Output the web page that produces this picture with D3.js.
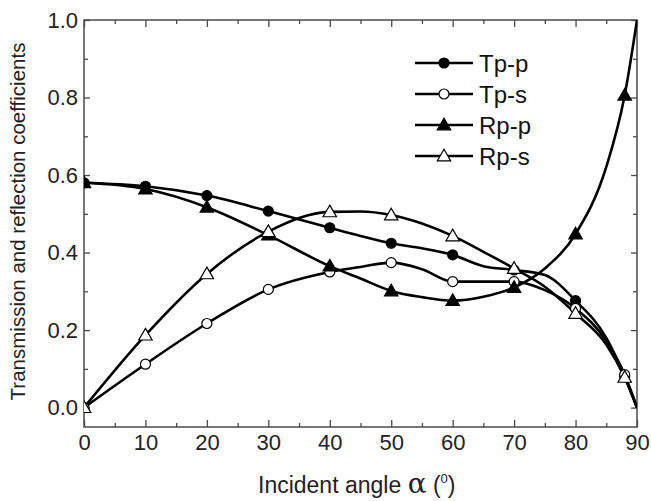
<!DOCTYPE html>
<html>
<head>
<meta charset="utf-8">
<script src="https://cdn.jsdelivr.net/npm/d3@7"></script>
<style>
  body { margin: 0; background: #fff; }
  svg { display: block; font-family: "Liberation Sans", Arial, sans-serif; }
</style>
</head>
<body>
<svg id="chart" width="651" height="501"></svg>
<script>
const angles = [0, 10, 20, 30, 40, 45, 50, 55, 60, 65, 70, 75, 80, 85, 88, 90]
// angles that carry a marker
const markerAngles = [0, 10, 20, 30, 40, 50, 60, 70, 80, 88]

const tpp = [0.580, 0.571, 0.547, 0.507, 0.464, 0.443, 0.424, 0.411, 0.394, 0.365, 0.355, 0.342, 0.276, 0.180, 0.080, 0.0]
const tps = [0.0, 0.112, 0.217, 0.305, 0.350, 0.363, 0.374, 0.357, 0.325, 0.325, 0.325, 0.303, 0.256, 0.172, 0.085, 0.0]
const rpp = [0.580, 0.564, 0.517, 0.445, 0.365, 0.333, 0.301, 0.285, 0.276, 0.286, 0.310, 0.359, 0.448, 0.621, 0.806, 1.0]
const rps = [0.0, 0.187, 0.345, 0.454, 0.505, 0.506, 0.497, 0.475, 0.443, 0.402, 0.359, 0.312, 0.243, 0.163, 0.078, 0.0]

const seriesNames = ["Tp-p", "Tp-s", "Rp-p", "Rp-s"]
const seriesValues = [tpp, tps, rpp, rps]
const seriesSymbols = ["circle", "circle", "triangle", "triangle"]
const seriesFilled = [true, false, true, false]

const xTicks = [0, 10, 20, 30, 40, 50, 60, 70, 80, 90]
const yTicks = [0.0, 0.2, 0.4, 0.6, 0.8, 1.0]

const margin = {left: 84, top: 20, right: 14, bottom: 74}
const width = 651 - margin.left - margin.right
const height = 501 - margin.top - margin.bottom

const svg = d3.select("#chart")
const g = svg.append("g")
    .attr("transform", "translate(" + margin.left + "," + margin.top + ")")

const x = d3.scaleLinear().domain([0, 90]).range([0, width])
const y = d3.scaleLinear().domain([-0.05, 1.0]).range([height, 0])

g.append("clipPath").attr("id", "plotclip")
  .append("rect").attr("width", width).attr("height", height)

// axes, ticks pointing inwards
const frameColor = "#4a4a4a"
const xMinor = d3.range(5, 90, 10)
const yMinor = [0.1, 0.3, 0.5, 0.7, 0.9]

function styleAxis(sel) {
    sel.select(".domain").remove()
    sel.selectAll(".tick line").attr("stroke", frameColor).attr("stroke-width", 1.3)
    sel.selectAll(".tick text").attr("fill", "#222").style("font-size", "22px")
}

g.append("g").attr("transform", "translate(0," + height + ")")
    .call(d3.axisBottom(x).tickValues(xTicks).tickSizeInner(-7).tickSizeOuter(0).tickPadding(7).tickFormat(d3.format("d")))
    .call(styleAxis)
g.append("g").attr("transform", "translate(0," + height + ")")
    .call(d3.axisBottom(x).tickValues(xMinor).tickSize(-4).tickFormat(""))
    .call(styleAxis)
g.append("g")
    .call(d3.axisTop(x).tickValues(xTicks).tickSize(-7).tickFormat(""))
    .call(styleAxis)
g.append("g")
    .call(d3.axisTop(x).tickValues(xMinor).tickSize(-4).tickFormat(""))
    .call(styleAxis)

g.append("g")
    .call(d3.axisLeft(y).tickValues(yTicks).tickSizeInner(-6).tickSizeOuter(0).tickPadding(6).tickFormat(d3.format(".1f")))
    .call(styleAxis)
g.append("g")
    .call(d3.axisLeft(y).tickValues(yMinor).tickSize(-4).tickFormat(""))
    .call(styleAxis)
g.append("g").attr("transform", "translate(" + width + ",0)")
    .call(d3.axisRight(y).tickValues(yTicks).tickSize(-6).tickFormat(""))
    .call(styleAxis)
g.append("g").attr("transform", "translate(" + width + ",0)")
    .call(d3.axisRight(y).tickValues(yMinor).tickSize(-4).tickFormat(""))
    .call(styleAxis)

g.append("rect")
    .attr("width", width).attr("height", height)
    .attr("fill", "none").attr("stroke", frameColor).attr("stroke-width", 1.5)

// axis titles
g.append("text")
    .attr("transform", "rotate(-90)")
    .attr("x", -height / 2 + 2)
    .attr("y", -margin.left + 18)
    .attr("dy", "0.35em")
    .style("text-anchor", "middle")
    .style("font-size", "20.5px")
    .attr("fill", "#222")
    .text("Transmission and reflection coefficients")

const xl = g.append("text")
    .attr("x", 174)
    .attr("y", height + 66)
    .style("font-size", "23px")
    .attr("fill", "#222")
xl.append("tspan").text("Incident angle ")
xl.append("tspan").style("font-size", "28px").style("font-family", "DejaVu Serif, serif").text("\u03b1")
xl.append("tspan").text(" (")
xl.append("tspan").attr("dy", -10).style("font-size", "13px").text("0")
xl.append("tspan").attr("dy", 10).text(")")

// symbols
const triangle = d3.symbol().type(d3.symbolTriangle).size(78)
function drawMarker(sel, sym, filled) {
    if (sym === "circle") {
        sel.append("circle").attr("r", 5)
            .attr("fill", filled ? "#000" : "#fff")
            .attr("stroke", "#000").attr("stroke-width", 1.2)
    } else {
        sel.append("path").attr("d", triangle).attr("transform", "translate(0,1)")
            .attr("fill", filled ? "#000" : "#fff")
            .attr("stroke", "#000").attr("stroke-width", 1.2)
    }
}

const line = d3.line()
    .x(function(d) { return x(d[0]) })
    .y(function(d) { return y(d[1]) })
    .curve(d3.curveMonotoneX)

const plot = g.append("g").attr("clip-path", "url(#plotclip)")

seriesValues.forEach(function(vals, i) {
    const pts = angles.map(function(a, j) { return [a, vals[j]] })
    plot.append("path")
        .datum(pts)
        .attr("d", line)
        .attr("fill", "none")
        .attr("stroke", "#000")
        .attr("stroke-width", 2.6)
        .attr("stroke-linejoin", "round")
})

seriesValues.forEach(function(vals, i) {
    const pts = angles.map(function(a, j) { return [a, vals[j]] })
        .filter(function(d) { return markerAngles.indexOf(d[0]) >= 0 })
    plot.selectAll(".m" + i)
        .data(pts)
        .enter()
        .append("g")
        .attr("class", "m" + i)
        .attr("transform", function(d) { return "translate(" + x(d[0]) + "," + y(d[1]) + ")" })
        .each(function() { drawMarker(d3.select(this), seriesSymbols[i], seriesFilled[i]) })
})

// legend
const legend = g.append("g").attr("transform", "translate(331,43)")
seriesNames.forEach(function(name, i) {
    const row = legend.append("g").attr("transform", "translate(0," + (i * 31) + ")")
    row.append("line").attr("x1", 0).attr("x2", 58)
        .attr("stroke", "#000").attr("stroke-width", 2.6)
    const m = row.append("g").attr("transform", "translate(29,0)")
    drawMarker(m, seriesSymbols[i], seriesFilled[i])
    row.append("text")
        .attr("x", 64).attr("dy", "0.36em")
        .style("font-size", "24px")
        .attr("fill", "#111")
        .text(name)
})
</script>
</body>
</html>
